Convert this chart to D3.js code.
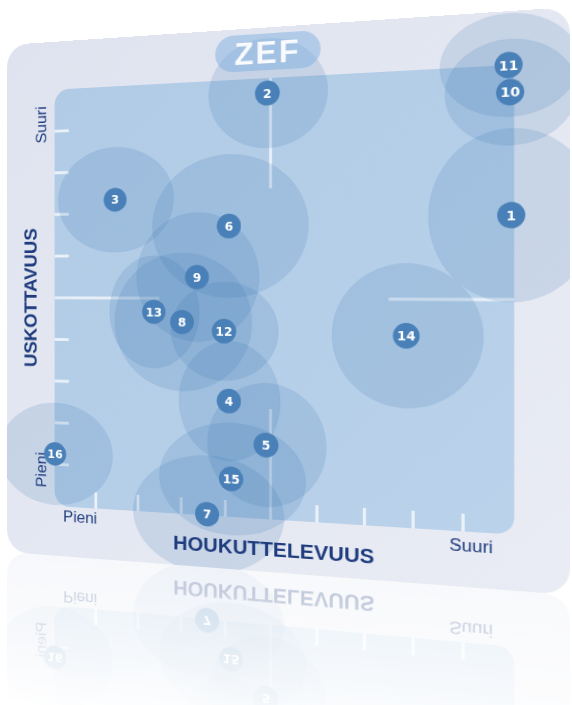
<!DOCTYPE html>
<html><head><meta charset="utf-8">
<script src="https://cdn.jsdelivr.net/npm/d3@7"></script>
<style>
html,body{margin:0;padding:0;background:#ffffff;overflow:hidden;width:572px;height:705px;}
#stage{position:absolute;left:0;top:0;transform-origin:0 0;}
</style></head><body>
<div id="stage"></div>
<script>
// ---- data ----
const ids = [1,2,3,4,5,6,7,8,9,10,11,12,13,14,15,16];
const attractiveness = [9.94,4.93,1.46,4.08,4.90,4.08,3.59,3.02,3.36,9.92,9.89,3.97,2.37,7.86,4.13,0.01];
const credibility    = [6.80,9.66,7.32,2.65,1.68,6.66,0.03,4.45,5.49,9.42,10.0,4.25,4.68,4.20,0.87,1.25];
const spreadX        = [1.63,1.30,1.37,1.13,1.30,1.74,1.70,1.57,1.39,1.28,1.35,1.20,1.04,1.54,1.63,1.39];
const spreadY        = [1.85,1.24,1.24,1.37,1.40,1.64,1.35,1.60,1.49,1.13,1.10,1.13,1.31,1.58,1.28,1.22];
const tickValues = [1,2,3,4,6,7,8,9];
const xAxisTitle = "HOUKUTTELEVUUS";
const yAxisTitle = "USKOTTAVUUS";
const lowLabel = "Pieni";
const highLabel = "Suuri";
const brand = "ZEF";

// ---- layout (flat world, then put in perspective) ----
const W = 563, H = 548;
const x = d3.scaleLinear().domain([0,10]).range([54.5,514.3]);
const y = d3.scaleLinear().domain([0,10]).range([495,51]);

const data = ids.map((id,i)=>({id, a:attractiveness[i], c:credibility[i], sx:spreadX[i], sy:spreadY[i]}));

const svg = d3.select("#stage").append("svg")
  .attr("width", W).attr("height", 2*H)
  .attr("viewBox", `0 0 ${W} ${2*H}`);

const defs = svg.append("defs");
const cg = defs.append("linearGradient").attr("id","cardGrad").attr("x1",0).attr("y1",0).attr("x2",1).attr("y2",1);
cg.append("stop").attr("offset",0).attr("stop-color","#dfe3ef");
cg.append("stop").attr("offset",1).attr("stop-color","#e9ecf4");
const ig = defs.append("linearGradient").attr("id","innerGrad").attr("x1",0).attr("y1",0).attr("x2",1).attr("y2",1);
ig.append("stop").attr("offset",0).attr("stop-color","#b1cbe6");
ig.append("stop").attr("offset",1).attr("stop-color","#bad2ea");
defs.append("clipPath").attr("id","cardClip").append("rect")
  .attr("x",0).attr("y",0).attr("width",W).attr("height",H).attr("rx",24);
const rg = defs.append("linearGradient").attr("id","reflGrad")
  .attr("gradientUnits","userSpaceOnUse").attr("x1",0).attr("y1",H).attr("x2",0).attr("y2",H+170);
rg.append("stop").attr("offset",0).attr("stop-color","#fff").attr("stop-opacity",0.3);
rg.append("stop").attr("offset",1).attr("stop-color","#fff").attr("stop-opacity",0);
defs.append("mask").attr("id","reflMask").attr("maskUnits","userSpaceOnUse")
  .attr("x",0).attr("y",H).attr("width",W).attr("height",H)
  .append("rect").attr("x",0).attr("y",H).attr("width",W).attr("height",H).attr("fill","url(#reflGrad)");

const main = defs.append("g").attr("id","mainChart");

// card
main.append("rect").attr("x",0).attr("y",0).attr("width",W).attr("height",H).attr("rx",24)
  .attr("fill","url(#cardGrad)");
// plot area
main.append("rect").attr("x",x(0)).attr("y",y(10)).attr("width",x(10)-x(0)).attr("height",y(0)-y(10))
  .attr("rx",16).attr("fill","url(#innerGrad)");

// crosshair arms
const lineCol = "#f4f8fc";
const cross = main.append("g").attr("stroke",lineCol).attr("stroke-width",3).attr("stroke-opacity",0.8);
[[0,2.5],[7.5,10]].forEach(([a,b])=>{
  cross.append("line").attr("x1",x(5)).attr("x2",x(5)).attr("y1",y(a)).attr("y2",y(b));
  cross.append("line").attr("y1",y(5)).attr("y2",y(5)).attr("x1",x(a)).attr("x2",x(b));
});
// ticks
const tk = main.append("g").attr("stroke",lineCol).attr("stroke-width",3).attr("stroke-opacity",0.85);
tk.selectAll(".xt").data(tickValues).join("line")
  .attr("x1",d=>x(d)).attr("x2",d=>x(d)).attr("y1",y(0)).attr("y2",y(0)-17);
tk.selectAll(".yt").data(tickValues).join("line")
  .attr("y1",d=>y(d)).attr("y2",d=>y(d)).attr("x1",x(0)).attr("x2",x(0)+16);

// spread ellipses
main.append("g").attr("clip-path","url(#cardClip)")
  .selectAll("ellipse").data(data).join("ellipse")
  .attr("cx",d=>x(d.a)).attr("cy",d=>y(d.c))
  .attr("rx",d=>x(d.sx)-x(0)).attr("ry",d=>y(0)-y(d.sy))
  .attr("fill","#3a74b4").attr("fill-opacity",0.17)
  .attr("stroke","#3a74b4").attr("stroke-opacity",0.06).attr("stroke-width",1);

// axis labels
const navy = "#1e3b7d";
const lab = main.append("g").attr("font-family","'Liberation Sans', Arial, sans-serif").attr("fill",navy);
lab.append("text").attr("transform","translate(27,273) rotate(-90)")
  .attr("text-anchor","middle").attr("dy","0.35em")
  .attr("font-size",20).attr("font-weight","bold").text(yAxisTitle);
lab.append("text").attr("transform","translate(39,88) rotate(-90)")
  .attr("text-anchor","middle").attr("dy","0.35em").attr("font-size",17).text(highLabel);
lab.append("text").attr("transform","translate(39,457) rotate(-90)")
  .attr("text-anchor","middle").attr("dy","0.35em").attr("font-size",17).text(lowLabel);
lab.append("text").attr("x",83).attr("y",505).attr("dy","0.35em")
  .attr("text-anchor","middle").attr("font-size",17).text(lowLabel);
lab.append("text").attr("x",475.5).attr("y",508).attr("dy","0.35em")
  .attr("text-anchor","middle").attr("font-size",17).text(highLabel);
lab.append("text").attr("x",285).attr("y",524.5).attr("dy","0.35em")
  .attr("text-anchor","middle").attr("font-size",21).attr("font-weight","bold").text(xAxisTitle);

// markers
const mk = main.append("g").selectAll("g").data(data).join("g")
  .attr("transform",d=>`translate(${x(d.a)},${y(d.c)})`);
mk.append("circle").attr("r",12.5).attr("fill","#4a80b8");
mk.append("text").attr("text-anchor","middle").attr("dy","0.36em")
  .attr("font-family","'DejaVu Sans', sans-serif").attr("font-weight","bold")
  .attr("font-size",12.5).attr("fill","#ffffff").text(d=>d.id);

// brand pill
main.append("rect").attr("x",228).attr("y",6).attr("width",106).attr("height",37).attr("rx",18.5)
  .attr("fill","#7fb0df").attr("fill-opacity",0.5);
main.append("text").attr("x",281).attr("y",24.5).attr("dy","0.36em").attr("text-anchor","middle")
  .attr("font-family","'Liberation Sans', Arial, sans-serif").attr("font-weight","bold")
  .attr("font-size",32).attr("letter-spacing",2).attr("fill","#ffffff").attr("fill-opacity",0.92)
  .text(brand);

// place chart and its floor reflection
svg.append("use").attr("href","#mainChart");
svg.append("g").attr("mask","url(#reflMask)")
  .append("use").attr("href","#mainChart").attr("transform",`translate(0,${2*H}) scale(1,-1)`);

// perspective homography
function homography(src, dst){
  const A=[], b=[];
  for(let i=0;i<4;i++){
    const [sx,sy]=src[i], [X,Y]=dst[i];
    A.push([sx,sy,1,0,0,0,-sx*X,-sy*X]); b.push(X);
    A.push([0,0,0,sx,sy,1,-sx*Y,-sy*Y]); b.push(Y);
  }
  const n=8;
  for(let c=0;c<n;c++){
    let p=c; for(let q=c+1;q<n;q++) if(Math.abs(A[q][c])>Math.abs(A[p][c])) p=q;
    [A[c],A[p]]=[A[p],A[c]]; [b[c],b[p]]=[b[p],b[c]];
    for(let q=0;q<n;q++){ if(q===c) continue; const f=A[q][c]/A[c][c];
      for(let k=c;k<n;k++) A[q][k]-=f*A[c][k]; b[q]-=f*b[c]; }
  }
  return b.map((v,i)=>v/A[i][i]);
}
const h = homography([[0,0],[W,0],[W,H],[0,H]], [[7,45],[570,7],[570,595],[7,552]]);
document.getElementById("stage").style.transform =
  `matrix3d(${h[0]},${h[3]},0,${h[6]},${h[1]},${h[4]},0,${h[7]},0,0,1,0,${h[2]},${h[5]},0,1)`;
</script>
</body></html>
